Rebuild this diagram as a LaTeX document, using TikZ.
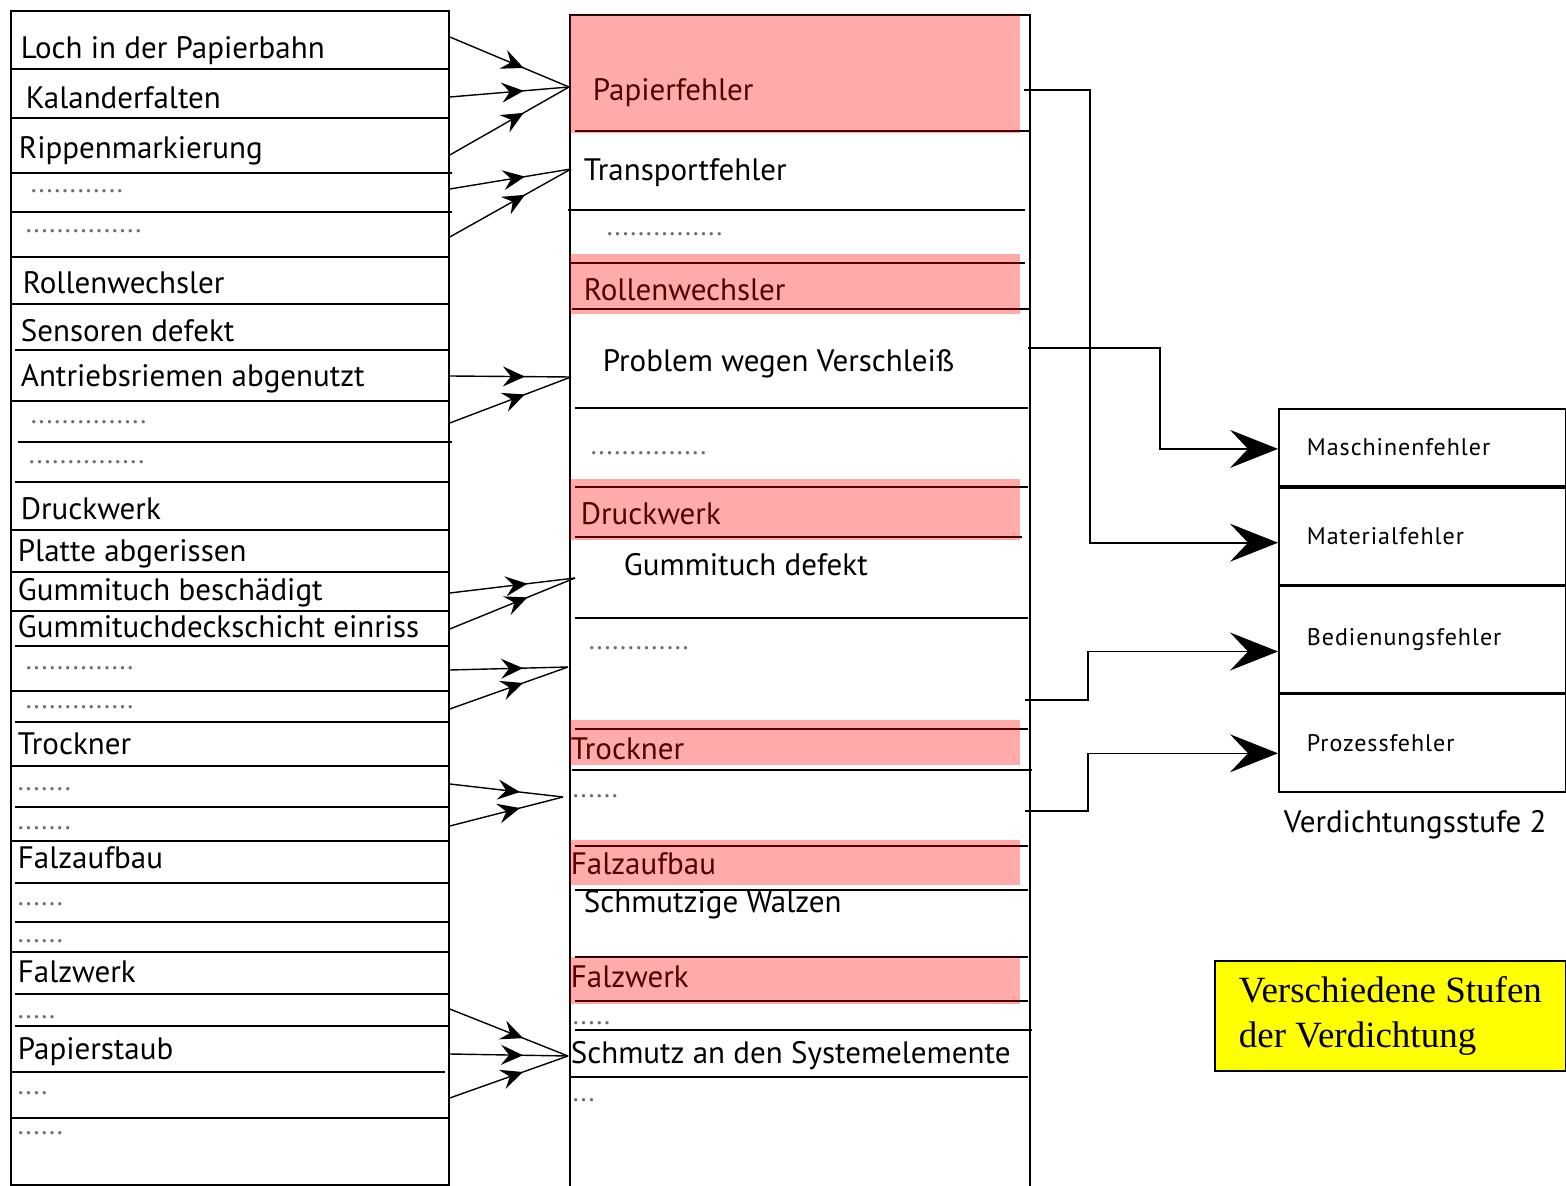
\documentclass[tikz,border=0pt]{standalone}
\usepackage{fontspec}
\setmainfont{PT Sans}
\newfontfamily\notefont{Liberation Serif}
\usetikzlibrary{arrows.meta,positioning,calc,decorations.markings}
\definecolor{MarkRed}{HTML}{FF0000}
\definecolor{NoteYellow}{HTML}{FFFF00}
\definecolor{DotGray}{HTML}{6E6E6E}

\begin{document}
\begin{tikzpicture}[x=0.5pt, y=-0.5pt, line width=0.9pt,
  lbl/.style={anchor=west, inner sep=0pt, yshift=-2.5pt, font=\fontsize{15.5}{18}\selectfont, text height=1.55ex, text depth=0.45ex},
  dotrow/.style={anchor=base west, inner sep=0pt, text=DotGray, font=\fontsize{14}{16}\selectfont},
  cell/.style={draw, minimum width=143.5pt, text width=115.5pt, inner xsep=14pt, align=left, font=\fontsize{12}{14}\selectfont\addfontfeature{LetterSpace=4}},
  feed/.style={line width=0.7pt, decoration={markings, mark=at position 0.62 with {\arrow{Stealth[length=11pt, width=10pt, inset=4pt]}}}, postaction={decorate}},
  bigarrow/.style={line width=0.8pt, -{Stealth[length=24pt, width=19pt, inset=9pt]}}
]
\useasboundingbox (0,0) rectangle (1566,1186);

% Column frames
\node[draw, anchor=north west, minimum width=219pt, minimum height=587pt, inner sep=0pt] (leftcol) at (10,10) {};
\node[anchor=north west, minimum width=229pt, minimum height=585.5pt, inner sep=0pt] (midcol) at (570,15) {};
\draw (midcol.south west) |- (midcol.north east) -- (midcol.south east);

% Row separators, left column
\draw (10,69) -- (448,69)  (10,118) -- (448,118)  (10,173) -- (452,173)  (10,212) -- (452,212)
      (10,257) -- (448,257)  (10,304) -- (448,304)  (15,350) -- (448,350)  (10,401) -- (448,401)
      (18,442) -- (452,442)  (15,482) -- (448,482)  (10,530) -- (448,530)  (12,572) -- (448,572)
      (12,611) -- (448,611)  (15,646) -- (448,646)  (10,691) -- (448,691)  (15,722) -- (448,722)
      (12,766) -- (448,766)  (15,807) -- (448,807)  (12,841) -- (448,841)  (15,883) -- (448,883)
      (15,922) -- (448,922)  (12,952) -- (448,952)  (15,994) -- (448,994)  (15,1026) -- (448,1026)
      (10,1072) -- (445,1072)  (10,1118) -- (448,1118);

% Row separators, middle column
\draw (575,131) -- (1030,131)  (568,210) -- (1025,210)  (570,263) -- (1025,263)  (572,309) -- (1030,309)
      (575,408) -- (1028,408)  (575,487) -- (1028,487)  (575,537) -- (1022,537)  (575,618) -- (1028,618)
      (575,729) -- (1028,729)  (572,770) -- (1032,770)  (575,846) -- (1028,846)  (575,890) -- (1028,890)
      (575,957) -- (1028,957)  (575,1001) -- (1028,1001)  (575,1030) -- (1032,1030)  (570,1077) -- (1028,1077);

% Left column labels
\node[lbl] (loch) at (20,48) {Loch in der Papierbahn};
\node[lbl] (kal) at (25,98) {Kalanderfalten};
\node[lbl] (rip) at (18,148) {Rippenmarkierung};
\node[dotrow] (d1) at (30,193) {............};
\node[dotrow] (d2) at (25,233) {...............};
\node[lbl] (rollL) at (22,283) {Rollenwechsler};
\node[lbl] (sens) at (20,331) {Sensoren defekt};
\node[lbl] (antr) at (20,376) {Antriebsriemen abgenutzt};
\node[dotrow] (d3) at (30,424) {...............};
\node[dotrow] (d4) at (28,464) {...............};
\node[lbl] (druckL) at (20,509) {Druckwerk};
\node[lbl] (platte) at (17,551) {Platte abgerissen};
\node[lbl] (gbesch) at (17,590) {Gummituch beschädigt};
\node[lbl] (gdeck) at (17,627) {Gummituchdeckschicht einriss};
\node[dotrow] (d5) at (25,669) {..............};
\node[dotrow] (d6) at (25,708) {..............};
\node[lbl] (trockL) at (17,744) {Trockner};
\node[dotrow] (d7) at (17,790) {.......};
\node[dotrow] (d8) at (17,829) {.......};
\node[lbl] (falzaL) at (17,858) {Falzaufbau};
\node[dotrow] (d9) at (17,905) {......};
\node[dotrow] (d10) at (17,942) {......};
\node[lbl] (falzwL) at (17,972) {Falzwerk};
\node[dotrow] (d11) at (17,1018) {.....};
\node[lbl] (staub) at (17,1049) {Papierstaub};
\node[dotrow] (d12) at (17,1094) {....};
\node[dotrow] (d13) at (17,1134) {......};

% Middle column labels
\node[lbl] (pf) at (592,90) {Papierfehler};
\node[lbl] (trans) at (583,170) {Transportfehler};
\node[dotrow] (m1) at (606,236) {...............};
\node[lbl] (rollM) at (583,290) {Rollenwechsler};
\node[lbl] (prob) at (602,361) {Problem wegen Verschleiß};
\node[dotrow] (m2) at (590,455) {...............};
\node[lbl] (druckM) at (580,514) {Druckwerk};
\node[lbl] (gdef) at (623,565) {Gummituch defekt};
\node[dotrow] (m3) at (588,649) {.............};
\node[lbl] (trockM) at (570,749) {Trockner};
\node[dotrow] (m4) at (572,797) {......};
\node[lbl] (falzaM) at (570,864) {Falzaufbau};
\node[lbl] (walz) at (583,902) {Schmutzige Walzen};
\node[lbl] (falzwM) at (570,977) {Falzwerk};
\node[dotrow] (m5) at (572,1024) {.....};
\node[lbl] (schmutz) at (570,1053) {Schmutz an den Systemelemente};
\node[dotrow] (m6) at (572,1101) {...};

% Highlighted groups
\fill[MarkRed, fill opacity=0.33] (570,15) rectangle (1020,133);
\fill[MarkRed, fill opacity=0.33] (570,254) rectangle (1020,314);
\fill[MarkRed, fill opacity=0.33] (570,479) rectangle (1020,540);
\fill[MarkRed, fill opacity=0.33] (570,720) rectangle (1020,765);
\fill[MarkRed, fill opacity=0.33] (570,840) rectangle (1020,885);
\fill[MarkRed, fill opacity=0.33] (570,957) rectangle (1020,1004);

% Entry points on the middle column
\coordinate (inPapier) at (569,87);
\coordinate (inTrans) at (571,169);
\coordinate (inProb) at (571,377);
\coordinate (inGummi) at (575,578);
\coordinate (inDots) at (568,667);
\coordinate (inTrock) at (563,797);
\coordinate (inSchmutz) at (568,1056);

% Causes feeding the first level
\draw[feed] ($(loch.west -| leftcol.east)+(0,-16)$) -- (inPapier);
\draw[feed] ($(kal.west -| leftcol.east)+(0,-6)$) -- (inPapier);
\draw[feed] ($(rip.west -| leftcol.east)+(0,2)$) -- (inPapier);
\draw[feed] ($(d1.base -| leftcol.east)+(0,-4)$) -- (inTrans);
\draw[feed] ($(d2.base -| leftcol.east)+(0,4)$) -- (inTrans);
\draw[feed] ($(antr.west -| leftcol.east)+(0,-5)$) -- (inProb);
\draw[feed] ($(d3.base -| leftcol.east)+(0,-1)$) -- (inProb);
\draw[feed] ($(gbesch.west -| leftcol.east)+(0,-2)$) -- (inGummi);
\draw[feed] ($(gdeck.west -| leftcol.east)+(0,-3)$) -- (inGummi);
\draw[feed] ($(d5.base -| leftcol.east)+(0,1)$) -- (inDots);
\draw[feed] ($(d6.base -| leftcol.east)+(0,1)$) -- (inDots);
\draw[feed] ($(d7.base -| leftcol.east)+(0,-6)$) -- (inTrock);
\draw[feed] ($(d8.base -| leftcol.east)+(0,-3)$) -- (inTrock);
\draw[feed] ($(d11.base -| leftcol.east)+(0,-9)$) -- (inSchmutz);
\draw[feed] (staub.west -| leftcol.east) -- (inSchmutz);
\draw[feed] ($(d12.base -| leftcol.east)+(0,4)$) -- (inSchmutz);

% Second level (Verdichtungsstufe 2)
\node[cell, minimum height=38.5pt, anchor=north west] (masf) at (1278,408) {Maschinenfehler};
\node[cell, minimum height=48.5pt, below=0pt of masf] (matf) {Materialfehler};
\node[cell, minimum height=53pt, below=0pt of matf] (bedf) {Bedienungsfehler};
\node[cell, minimum height=49pt, below=0pt of bedf] (prozf) {Prozessfehler};
\node[lbl, anchor=north west, below right=9pt and 2.5pt of prozf.south west] (stufe) {Verdichtungsstufe 2};

% Exits from the middle column
\coordinate (outPapier) at (1024,90);
\coordinate (outProb) at (1028,348);
\coordinate (outDots) at (1025,700);
\coordinate (outTrock) at (1025,811);

\draw[bigarrow] (outPapier) -- ++(66,0) |- ([yshift=-3.25pt]matf.west);
\draw[bigarrow] (outProb) -- ++(132,0) |- ([yshift=-0.75pt]masf.west);
\draw[bigarrow] (outDots) -- ++(63,0) |- ([yshift=-6pt]bedf.west);
\draw[bigarrow] (outTrock) -- ++(63,0) |- ([yshift=-5pt]prozf.west);

% Note box
\node[draw, fill=NoteYellow, anchor=north west, minimum width=175.5pt, minimum height=55pt, align=left, font=\notefont\fontsize{18.5}{22.5}\selectfont] (note) at (1214,960) {Verschiedene Stufen\\der Verdichtung};
\end{tikzpicture}
\end{document}
